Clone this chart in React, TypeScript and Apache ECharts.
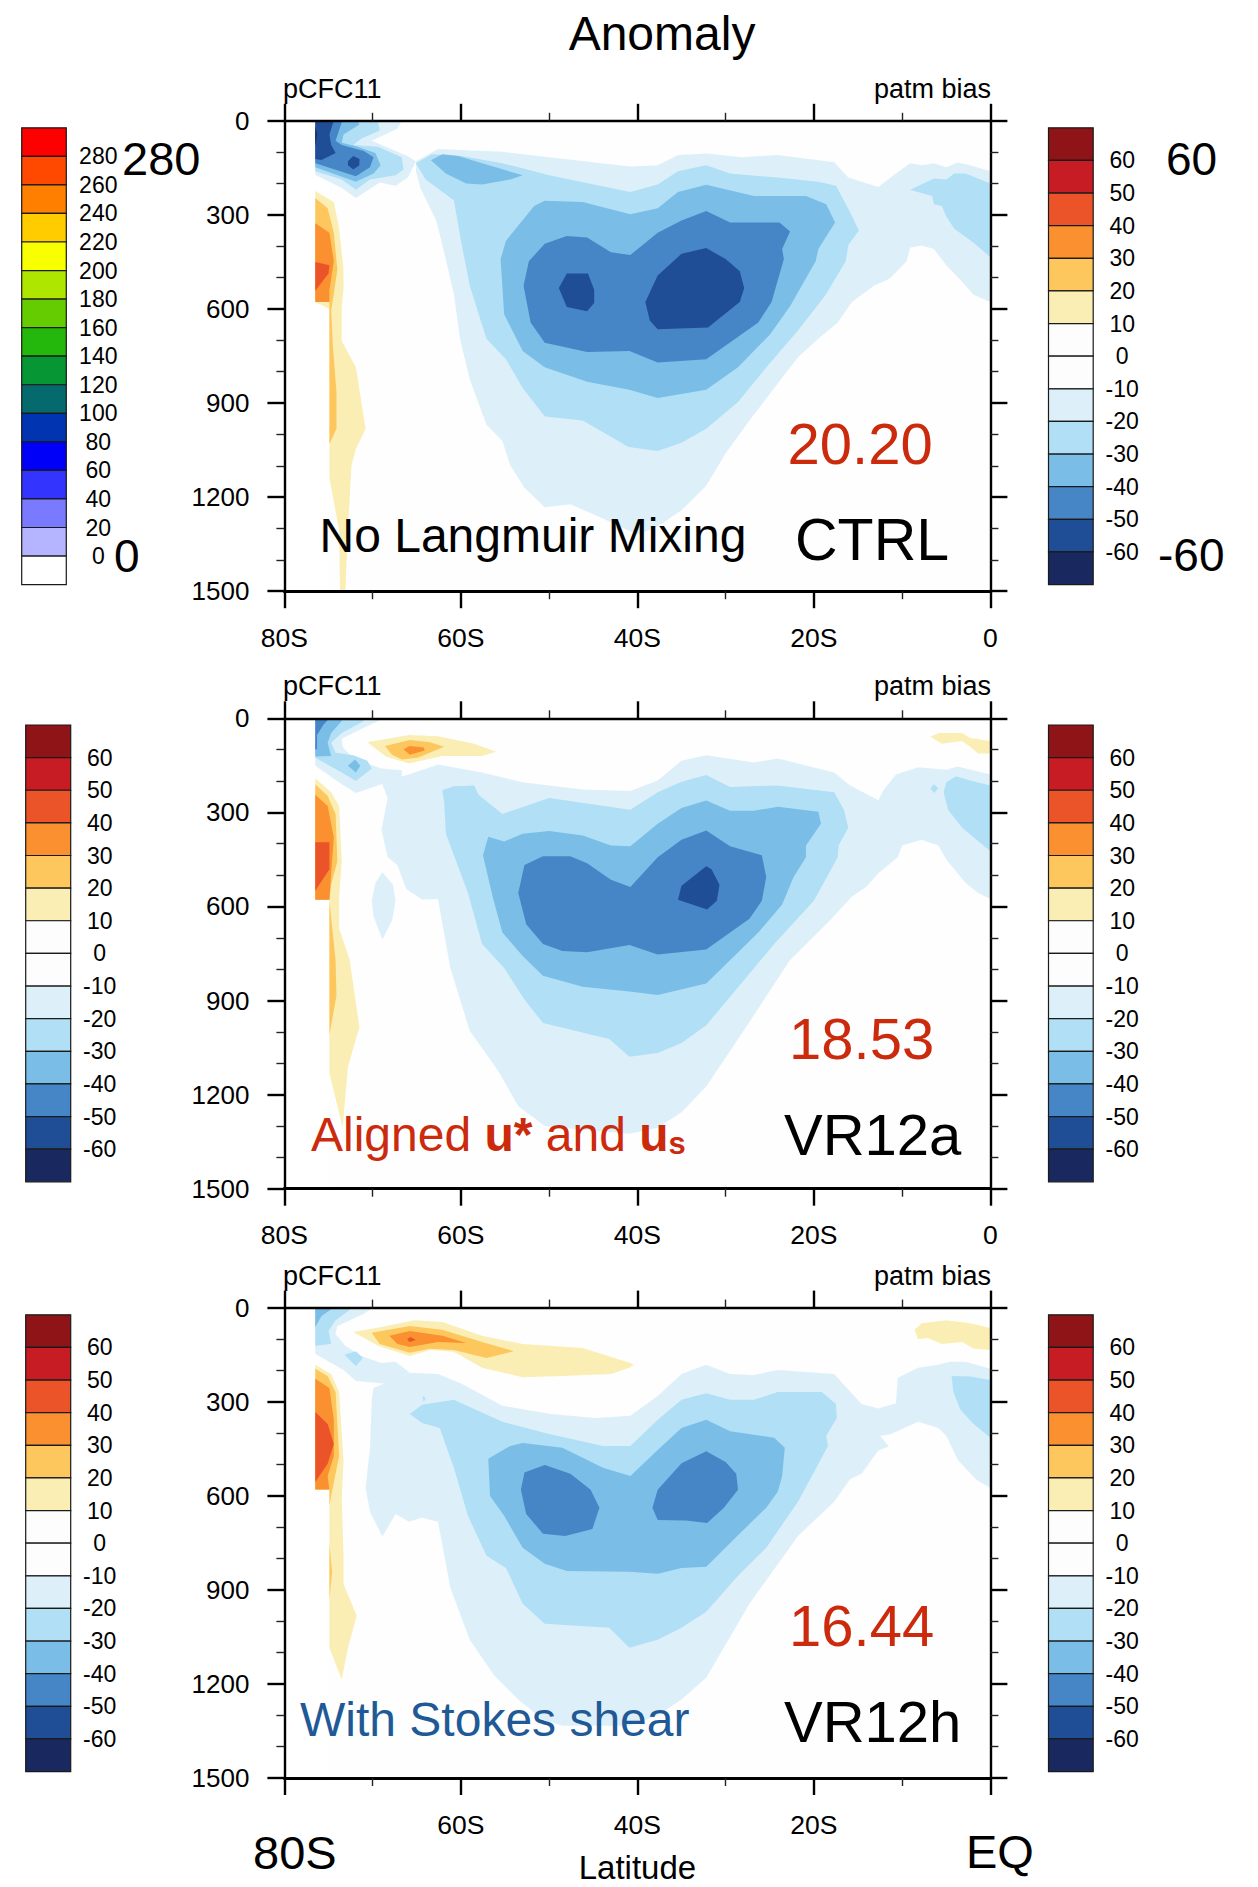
import React, { useEffect, useRef } from "react";
import * as echarts from "echarts";

type Pts = number[][];

const latTicks: Record<string, string> = { "-80": "80S", "-60": "60S", "-40": "40S", "-20": "20S", "0": "0" };
const biasColors = ["#8F1418", "#C81C24", "#EB5428", "#FA9030", "#FDC75E", "#FBEEB4", "#FDFDFD", "#FDFDFD", "#DDF0F9", "#B1DFF6", "#7ABDE6", "#4686C6", "#1F4E96", "#19295F"];
const biasLabels = ["-60", "-50", "-40", "-30", "-20", "-10", "0", "10", "20", "30", "40", "50", "60"];
const pcfcColors = ["#FF0000", "#FF4800", "#FF8000", "#FFCC00", "#F8FF00", "#AEE600", "#64CC00", "#24B80C", "#069634", "#046A6E", "#0034B0", "#0000F8", "#3434FF", "#7A7AFF", "#B4B4FF", "#FFFFFF"];
const pcfcLabels = ["0", "20", "40", "60", "80", "100", "120", "140", "160", "180", "200", "220", "240", "260", "280"];

const levelFill: Record<string, string> = {
  nearWhite: "#FEFEFE", n60: "#19295F", n50: "#1F4E96", n40: "#4686C6", n30: "#7ABDE6", n20: "#B1DFF6", n10: "#DDF0F9",
  p10: "#FBEEB4", p20: "#FDC75E", p30: "#FA9030", p40: "#EB5428",
};

const background: Pts = [[-74.9, 0], [0, 0], [0, 1500], [-74.9, 1500]];

// ---- CTRL ----
const c_n10_main: Pts = [[-65.1,129],[-62.6,90],[-55.3,99],[-50,116],[-40.8,146],[-37.7,142],[-35.4,109],[-32.2,104],[-28.2,116],[-24.1,109],[-17.7,132],[-16.1,181],[-12.7,211],[-10.9,172],[-9.1,135],[-7.8,142],[-6.4,135],[-5,148],[-3.7,133],[-2.3,142],[0,161],[0,578],[-1.9,555],[-3.2,513],[-5,461],[-6.4,409],[-7.8,398],[-9.1,405],[-9.5,448],[-11.4,503],[-13.2,526],[-15.7,578],[-17.3,643],[-19.5,695],[-21.8,754],[-24.1,838],[-27.3,956],[-30,1060],[-32.2,1164],[-35,1242],[-37.7,1294],[-40,1320],[-43.9,1268],[-47.6,1223],[-50.5,1232],[-52.8,1170],[-54.4,1099],[-55.3,1021],[-57.1,969],[-59,825],[-60.1,695],[-60.8,552],[-62.1,396],[-62.8,318],[-64.6,214],[-65.1,161]];
const c_n10_ant: Pts = [[-76.5,0],[-66.7,0],[-67.2,25],[-70.1,64],[-66,113],[-65.1,129],[-66,181],[-67.4,207],[-69.2,197],[-71.9,246],[-73.5,214],[-76.5,172]];
const c_n20_main: Pts = [[-65.1,135],[-63.3,107],[-59.9,112],[-55.3,135],[-50,174],[-40.8,227],[-37.7,203],[-35.4,161],[-32.2,142],[-29.5,168],[-24.1,181],[-19.5,194],[-17.5,207],[-15.9,292],[-14.9,350],[-16.1,396],[-16.4,448],[-18.6,552],[-21.8,669],[-25,773],[-28.6,897],[-32.2,982],[-35,1027],[-37.7,1053],[-41,1040],[-46.2,956],[-50.5,943],[-53,852],[-54.9,760],[-57.1,695],[-59,526],[-59.9,396],[-60.8,253],[-64,187]];
const c_n20_ant: Pts = [[-76.5,161],[-73.5,187],[-71.9,220],[-70.3,187],[-67.4,174],[-66.5,155],[-66.7,116],[-69.4,83],[-72.2,77],[-71.3,57],[-69.2,31],[-69.4,0],[-76.5,0]];
const c_n20_right: Pts = [[-9.1,220],[-6.4,184],[-5,187],[-4.1,168],[-2.8,168],[0,200],[0,435],[-1.9,389],[-4.1,344],[-5,305],[-5.5,272],[-6.4,266],[-6.6,240]];
const c_n30_ant: Pts = [[-76.5,148],[-71.9,194],[-69.9,168],[-69.1,142],[-69.7,103],[-71.7,83],[-73.5,70],[-73.3,44],[-71.5,12],[-71.7,0],[-76.5,0]];
const c_n30_small: Pts = [[-63.4,126],[-62.1,107],[-60.3,112],[-57.6,135],[-53,174],[-54.4,187],[-57.6,203],[-59.4,200],[-61.7,168]];
const c_n30_main: Pts = [[-55.5,441],[-54.9,383],[-51.7,272],[-50.5,255],[-46.2,259],[-40.8,298],[-37.7,279],[-35.4,227],[-32.2,204],[-26.8,240],[-20.9,240],[-18.6,266],[-17.6,324],[-19.5,409],[-19.8,448],[-22.7,591],[-25,682],[-28.6,786],[-32.2,858],[-37.7,884],[-40.9,858],[-45.7,832],[-50.5,786],[-53,734],[-55.1,617]];
const c_n40_ant: Pts = [[-76.5,135],[-71.9,177],[-70.3,148],[-69.9,116],[-71,96],[-73.5,77],[-74.2,64],[-73.5,5],[-73.5,0],[-76.5,0]];
const c_n40_main: Pts = [[-52.9,526],[-52.3,448],[-50.5,392],[-48,367],[-45.7,372],[-43,419],[-40.8,428],[-37.7,357],[-35,318],[-32.2,288],[-29.5,324],[-23.9,324],[-22.7,353],[-23.6,409],[-23.4,441],[-24.8,578],[-26.3,643],[-32.2,760],[-37.7,771],[-40.9,734],[-45.7,737],[-50.5,708],[-52.1,643]];
const c_n50_a: Pts = [[-48.9,533],[-48,487],[-45.6,487],[-44.9,539],[-44.9,581],[-45.7,607],[-48,594]];
const c_n50_b: Pts = [[-39.1,578],[-37.7,493],[-35,424],[-32.2,406],[-30,441],[-28.4,480],[-27.9,533],[-28.4,578],[-32,659],[-37.7,665],[-38.6,637]];
const c_n50_ant: Pts = [[-76.5,0],[-74.4,0],[-74.9,44],[-74.7,77],[-74.2,103],[-75.8,125],[-76.5,122]];
const c_n50_isle: Pts = [[-72.8,129],[-72.2,112],[-71.5,122],[-71.5,142],[-72.2,155],[-72.8,142]];
const c_n60_ant: Pts = [[-76.5,18],[-76.3,44],[-76.5,83]];
const c_p10: Pts = [[-76.5,224],[-74.4,259],[-73.8,344],[-73.3,474],[-73.3,539],[-73.5,591],[-73.5,702],[-71.9,786],[-70.8,982],[-71.9,1047],[-72.4,1099],[-72.7,1255],[-73.1,1500],[-73.7,1500],[-73.8,1307],[-74.9,1138],[-74.9,600],[-76.5,578]];
const c_p20: Pts = [[-76.5,246],[-75.1,279],[-74.4,357],[-74,474],[-74.4,552],[-74.7,604],[-74.5,721],[-74.1,865],[-74.1,982],[-74.9,1031],[-74.9,578],[-76.5,578]];
const c_p30: Pts = [[-76.5,327],[-74.9,357],[-74.4,448],[-74.9,539],[-74.9,578],[-76.5,578]];
const c_p40: Pts = [[-76.5,450],[-74.9,461],[-75,487],[-76.5,542]];

// ---- VR12a ----
const a_n10_main: Pts = [[-69,204],[-65.9,179],[-62.6,147],[-57.6,173],[-53,204],[-46.2,227],[-40.8,232],[-37.7,198],[-35,135],[-32.2,118],[-26.8,141],[-24.1,128],[-17.7,173],[-15.9,214],[-12.7,261],[-12.1,229],[-10.7,179],[-8.2,156],[-5,164],[-3.7,154],[0,179],[0,576],[-1.4,557],[-2.8,525],[-5,450],[-5.9,406],[-7.8,387],[-10,406],[-10.5,443],[-12.7,494],[-14.1,538],[-15.7,569],[-18.2,645],[-22.7,771],[-27.7,985],[-32.2,1174],[-35,1256],[-37.7,1306],[-40.9,1325],[-46.2,1312],[-50.5,1300],[-53.5,1237],[-55.8,1123],[-59,997],[-61.2,796],[-62.6,576],[-64.4,578],[-66.2,544],[-67.2,468],[-68.3,443],[-69,355],[-68.3,254]];
const a_n10_ant: Pts = [[-76.5,0],[-68.7,0],[-71.3,34],[-73.5,65],[-73.4,91],[-72.2,128],[-69,160],[-66.7,166],[-66.7,191],[-69,210],[-71.9,238],[-73.5,210],[-76.5,151]];
const a_n10_isle: Pts = [[-68.9,491],[-67.7,531],[-67.4,582],[-67.8,645],[-68.9,705],[-69.9,632],[-70.1,582],[-69.7,525]];
const a_n20_main: Pts = [[-62.1,229],[-60.8,217],[-58.5,214],[-58,244],[-55.3,305],[-50,254],[-40.8,292],[-37.7,236],[-35,202],[-32.2,181],[-29.5,219],[-24.1,214],[-17.7,236],[-16.6,292],[-16.1,349],[-17.2,406],[-17.3,443],[-20,582],[-24.5,720],[-32.2,979],[-35,1035],[-37.7,1067],[-40.9,1079],[-43.2,1023],[-50.7,972],[-52.8,897],[-55.1,796],[-57.6,720],[-59.2,557],[-61.7,368],[-61.9,267]];
const a_n20_ant: Pts = [[-76.5,126],[-73.5,173],[-71.9,200],[-70.1,160],[-70.6,135],[-72.2,118],[-74.2,110],[-74.7,78],[-73.5,47],[-71,9],[-71,0],[-76.5,0]];
const a_n20_right: Pts = [[0,214],[-2.3,198],[-3.9,185],[-5,204],[-5.3,236],[-4.8,292],[-3.2,349],[0,424]];
const a_n20_dot: Pts = [[-6.4,210],[-5.9,223],[-6.4,238],[-6.8,223]];
const a_n30_main: Pts = [[-57.5,437],[-56.9,378],[-55.1,393],[-53,368],[-50,359],[-46.2,374],[-43,406],[-40.8,408],[-37.7,336],[-35,286],[-32.2,262],[-29.5,295],[-26.8,295],[-24.1,282],[-19.5,298],[-19.2,336],[-20.9,406],[-20.9,443],[-22.3,506],[-23.6,594],[-26.3,683],[-32.2,846],[-37.7,882],[-40.9,871],[-46.2,856],[-50.7,821],[-53,758],[-55.3,683],[-56.4,569]];
const a_n30_ant: Pts = [[-76.5,122],[-74.7,120],[-75.1,78],[-74.7,47],[-73.5,9],[-73.5,0],[-76.5,0]];
const a_n30_isle: Pts = [[-72.8,151],[-72,131],[-71.4,151],[-71.9,173]];
const a_n40_main: Pts = [[-53.5,557],[-52.8,468],[-50.7,440],[-47.6,440],[-45.7,462],[-43,515],[-40.8,538],[-37.7,443],[-35,387],[-32.2,358],[-29.5,408],[-25.9,437],[-25.4,506],[-25.9,582],[-27.3,639],[-32.2,737],[-37.7,753],[-40.9,723],[-45.7,746],[-48.5,742],[-50.7,720],[-52.6,657]];
const a_n40_ant: Pts = [[-76.5,0],[-74.9,0],[-75.6,21],[-76.3,53],[-76.3,97],[-76.5,101]];
const a_n50: Pts = [[-35.4,579],[-35,534],[-32.2,472],[-31.6,481],[-30.7,531],[-31,582],[-32.1,610]];
const a_p10: Pts = [[-76.5,191],[-74.7,236],[-73.8,280],[-73.5,456],[-73.8,569],[-73.8,670],[-72.6,771],[-71.5,985],[-72.8,1111],[-73.4,1306],[-74.9,1130],[-74.9,579],[-76.5,579]];
const a_p20: Pts = [[-76.5,210],[-75.1,248],[-74.2,305],[-74,456],[-74.7,531],[-74.9,582],[-74.2,771],[-74.1,884],[-74.9,1010],[-74.9,579],[-76.5,579]];
const a_p30: Pts = [[-76.5,244],[-75.1,280],[-74.4,380],[-74.7,494],[-74.9,579],[-76.5,579]];
const a_p40: Pts = [[-76.5,395],[-74.9,395],[-74.9,481],[-76.5,550]];
const a_p10_blob: Pts = [[-70.6,76],[-65.9,53],[-62.6,57],[-58.5,81],[-56,107],[-57.6,120],[-62.1,120],[-65.9,144],[-68.5,122]];
const a_p20_blob: Pts = [[-68.6,88],[-65.8,69],[-63.5,76],[-61.9,91],[-64.9,126],[-66.7,131],[-67.8,116]];
const a_p30_blob: Pts = [[-66.5,99],[-65.8,88],[-64.2,93],[-64.1,103],[-65.8,116]];
const a_p10_right: Pts = [[-6.8,59],[-5.9,47],[-3.2,47],[-2.3,63],[0,72],[0,112],[-1.4,112],[-2.3,91],[-3.2,72],[-5.5,81]];

// ---- VR12h ----
const h_n10_main: Pts = [[-65.8,208],[-62.6,212],[-59.9,243],[-55.3,313],[-49.8,339],[-44.8,352],[-40.8,345],[-37.7,282],[-35,212],[-32.2,182],[-29.5,212],[-26.8,215],[-24.1,199],[-17.7,212],[-14.6,307],[-12.7,322],[-10.7,305],[-10.5,224],[-8.2,192],[-5.9,182],[-4.6,173],[-2.8,173],[0,195],[0,575],[-1.6,549],[-3.7,486],[-5,409],[-5.9,384],[-8.2,364],[-11.4,405],[-12.5,409],[-11.5,443],[-12.7,456],[-14.6,530],[-15.9,547],[-17.7,619],[-21.8,728],[-27.3,944],[-32.2,1180],[-35,1250],[-37.7,1301],[-40.9,1333],[-48.5,1333],[-50.7,1314],[-53.5,1250],[-56.2,1174],[-59,1059],[-61.2,893],[-62.6,683],[-64.4,670],[-65.9,683],[-67.4,658],[-68.9,730],[-70.3,651],[-70.8,575],[-70.3,447],[-70.1,294],[-69.9,256]];
const h_n10_ant: Pts = [[-76.5,0],[-69.9,0],[-71,20],[-74,59],[-74.2,84],[-73.1,122],[-71.3,154],[-69,177],[-67.4,173],[-65.8,208],[-68.5,243],[-71.9,234],[-73.3,199],[-76.5,148]];
const h_n20_main: Pts = [[-65.8,339],[-64.4,310],[-60.8,294],[-55.3,364],[-50,403],[-43.9,441],[-40.8,441],[-37.7,358],[-35,294],[-32.2,273],[-29.5,294],[-26.8,294],[-24.1,269],[-19.1,269],[-17.5,307],[-17.4,352],[-18.6,409],[-18.4,441],[-21.8,619],[-25.4,766],[-28.6,855],[-32.2,970],[-35,1021],[-37.7,1059],[-40.9,1085],[-43.2,1021],[-50.5,1008],[-53,944],[-54.9,830],[-57.1,791],[-59.2,664],[-60.8,511],[-62.4,384],[-64.4,368]];
const h_n20_ant: Pts = [[-76.5,122],[-74.7,116],[-75,75],[-74.2,40],[-72.6,8],[-72.6,0],[-76.5,0]];
const h_n20_isle: Pts = [[-73.2,150],[-71.9,139],[-71.1,161],[-71.9,186]];
const h_n20_dot: Pts = [[-64.4,282],[-64,288],[-64.2,301]];
const h_n20_right: Pts = [[0,231],[-2.3,220],[-4.4,218],[-4.2,269],[-3.4,326],[-1.9,371],[0,415]];
const h_n30_main: Pts = [[-56.9,482],[-54.4,441],[-53,432],[-48.5,447],[-43.9,511],[-40.8,537],[-37.7,454],[-35,384],[-32.2,358],[-29.5,394],[-24.5,415],[-23.3,447],[-23.6,537],[-24.1,587],[-25.4,638],[-28.2,715],[-32.2,826],[-35,830],[-37.7,849],[-40.9,842],[-48,840],[-50.5,817],[-53,766],[-55.1,664],[-56.7,601]];
const h_n30_ant: Pts = [[-76.5,0],[-74.4,0],[-75.8,27],[-76.5,62]];
const h_n40_a: Pts = [[-53.2,581],[-52.8,526],[-50.5,502],[-47.6,530],[-45.3,581],[-44.3,638],[-45.1,706],[-48.2,728],[-50.7,721],[-52.6,658]];
const h_n40_b: Pts = [[-38.3,638],[-37.7,581],[-35,496],[-32.2,458],[-30,492],[-28.8,530],[-28.6,581],[-30.2,638],[-32.1,687],[-34.5,679],[-37.7,677]];
const h_p10: Pts = [[-76.5,182],[-74.7,212],[-73.8,269],[-73.3,486],[-73.5,613],[-73.3,791],[-73.3,881],[-71.8,983],[-72.8,1085],[-73.5,1186],[-74.9,1085],[-74.9,580],[-76.5,580]];
const h_p20: Pts = [[-76.5,195],[-75.1,218],[-74.2,269],[-73.8,473],[-74.7,600],[-74.9,632],[-74.9,580],[-76.5,580]];
const h_p20_low: Pts = [[-74.9,753],[-74.6,842],[-74.9,932]];
const h_p30: Pts = [[-76.5,227],[-74.9,256],[-74.4,358],[-74.4,473],[-75.1,537],[-74.9,580],[-76.5,580]];
const h_p40: Pts = [[-76.5,333],[-75.1,371],[-74.4,435],[-75.1,498],[-76.5,556]];
const h_p10_blob: Pts = [[-72.2,78],[-69,62],[-65.3,40],[-62.1,46],[-57.6,90],[-53,116],[-46.2,129],[-40.8,177],[-40.4,182],[-40.9,192],[-43,212],[-48.5,218],[-53,222],[-57.6,192],[-60.8,141],[-63.5,135],[-65.8,154],[-69.4,122]];
const h_p20_blob: Pts = [[-70.1,80],[-65.8,59],[-62.1,71],[-57.6,110],[-54,139],[-57.1,161],[-60.8,135],[-63.5,131],[-65.8,144],[-69.2,116]];
const h_p30_blob: Pts = [[-68.1,90],[-65.8,75],[-62.1,90],[-59.4,113],[-62.6,110],[-65.8,126],[-67.2,116]];
const h_p40_blob: Pts = [[-66.1,101],[-65.7,94],[-65.1,103],[-65.8,110]];
const h_p10_right: Pts = [[-8.6,71],[-7.8,50],[-5,40],[-2.3,50],[0,65],[0,135],[-1.9,131],[-3.2,110],[-5.5,116],[-7.1,97],[-8.2,101]];

type Shape = [string, Pts];
const ctrlShapes: Shape[] = [["nearWhite", background], ["n10", c_n10_main], ["n10", c_n10_ant], ["n20", c_n20_main], ["n20", c_n20_ant], ["n20", c_n20_right], ["n30", c_n30_ant], ["n30", c_n30_small], ["n30", c_n30_main], ["n40", c_n40_ant], ["n40", c_n40_main], ["n50", c_n50_a], ["n50", c_n50_b], ["n50", c_n50_ant], ["n50", c_n50_isle], ["n60", c_n60_ant], ["p10", c_p10], ["p20", c_p20], ["p30", c_p30], ["p40", c_p40]];
const vr12aShapes: Shape[] = [["nearWhite", background], ["n10", a_n10_main], ["n10", a_n10_ant], ["n10", a_n10_isle], ["n20", a_n20_main], ["n20", a_n20_ant], ["n20", a_n20_right], ["n20", a_n20_dot], ["n30", a_n30_main], ["n30", a_n30_ant], ["n30", a_n30_isle], ["n40", a_n40_main], ["n40", a_n40_ant], ["n50", a_n50], ["p10", a_p10], ["p20", a_p20], ["p30", a_p30], ["p40", a_p40], ["p10", a_p10_blob], ["p20", a_p20_blob], ["p30", a_p30_blob], ["p10", a_p10_right]];
const vr12hShapes: Shape[] = [["nearWhite", background], ["n10", h_n10_main], ["n10", h_n10_ant], ["n20", h_n20_main], ["n20", h_n20_ant], ["n20", h_n20_isle], ["n20", h_n20_dot], ["n20", h_n20_right], ["n30", h_n30_main], ["n30", h_n30_ant], ["n40", h_n40_a], ["n40", h_n40_b], ["p10", h_p10], ["p20", h_p20], ["p20", h_p20_low], ["p30", h_p30], ["p40", h_p40], ["p10", h_p10_blob], ["p20", h_p20_blob], ["p30", h_p30_blob], ["p40", h_p40_blob], ["p10", h_p10_right]];

const FONT = '"Liberation Sans", Arial, sans-serif';

function buildOption() {
  const grid: any[] = [], xAxis: any[] = [], yAxis: any[] = [], series: any[] = [];
  const tickLine = (w: number) => ({ color: "#000", width: w });

  const addPlot = (top: number, shapes: Shape[], bottomLabels: boolean, axisName?: string) => {
    const g = grid.length;
    grid.push({ left: 284.4, top, width: 706, height: 470.4, outerBoundsMode: "none" });
    const xi = xAxis.length;
    const commonX = {
      gridIndex: g, type: "value", min: -80, max: 0, interval: 20, z: 10,
      axisLine: { show: true, onZero: false, lineStyle: tickLine(3) },
      axisTick: { show: true, length: 17, lineStyle: tickLine(2.4) },
      minorTick: { show: true, splitNumber: 2, length: 8, lineStyle: { color: "#222", width: 1.4 } },
      splitLine: { show: false },
    };
    xAxis.push({
      ...commonX, position: "bottom",
      axisLabel: {
        show: true, fontFamily: FONT, fontSize: 26.5, color: "#000", margin: 33, showMinLabel: true, showMaxLabel: true,
        formatter: (v: number) => (!bottomLabels && (v === -80 || v === 0) ? "" : latTicks[String(v)]),
      },
      ...(axisName ? { name: axisName, nameLocation: "middle", nameGap: 73, nameTextStyle: { fontFamily: FONT, fontSize: 33, color: "#000" } } : {}),
    });
    xAxis.push({ ...commonX, position: "top", axisLine: { show: true, onZero: false, lineStyle: tickLine(2.4) }, axisLabel: { show: false } });
    const yi = yAxis.length;
    const commonY = {
      gridIndex: g, type: "value", min: 0, max: 1500, interval: 300, inverse: true, z: 10,
      axisLine: { show: true, onZero: false, lineStyle: tickLine(2.4) },
      axisTick: { show: true, length: 17, lineStyle: tickLine(2.4) },
      minorTick: { show: true, splitNumber: 3, length: 8, lineStyle: { color: "#222", width: 1.4 } },
      splitLine: { show: false },
    };
    yAxis.push({
      ...commonY, position: "left",
      axisLabel: { show: true, fontFamily: FONT, fontSize: 26, color: "#000", margin: 35, showMinLabel: true, showMaxLabel: true, formatter: (v: number) => String(v) },
    });
    yAxis.push({ ...commonY, position: "right", axisLabel: { show: false } });
    series.push({
      type: "custom", coordinateSystem: "cartesian2d", xAxisIndex: xi, yAxisIndex: yi, silent: true, clip: true, z: 2,
      data: shapes.map((s, i) => [s[1][0][0], s[1][0][1], i]),
      encode: { x: 0, y: 1 },
      renderItem: (_p: any, api: any) => {
        const s = shapes[api.value(2)];
        return { type: "polygon", shape: { points: s[1].map((pt) => api.coord(pt)) }, style: { fill: levelFill[s[0]] } };
      },
    });
  };

  const addBar = (left: number, top: number, width: number, colors: string[], labels: string[], margin: number) => {
    const g = grid.length, n = colors.length;
    grid.push({ left, top, width, height: 456.8, outerBoundsMode: "none" });
    const xi = xAxis.length, yi = yAxis.length;
    xAxis.push({ gridIndex: g, type: "value", min: 0, max: 1, show: false });
    yAxis.push({
      gridIndex: g, type: "value", min: 0, max: n, interval: 1, position: "right",
      axisLine: { show: false }, axisTick: { show: false }, splitLine: { show: false },
      axisLabel: {
        show: true, fontFamily: FONT, fontSize: 23, color: "#000", margin, align: "center", padding: [2, 0, 0, 0],
        showMinLabel: true, showMaxLabel: true,
        formatter: (v: number) => labels[v - 1] ?? "",
      },
    });
    series.push({
      type: "custom", coordinateSystem: "cartesian2d", xAxisIndex: xi, yAxisIndex: yi, silent: true, clip: false,
      data: colors.map((_c, i) => [0, n - 1 - i, i]),
      encode: { x: 0, y: 1 },
      renderItem: (_p: any, api: any) => {
        const i = api.value(2);
        const a = api.coord([0, n - i]), b = api.coord([1, n - 1 - i]);
        return { type: "rect", shape: { x: a[0], y: a[1], width: b[0] - a[0], height: b[1] - a[1] }, style: { fill: colors[i], stroke: "#1a1a1a", lineWidth: 1.2 } };
      },
    });
  };

  addPlot(120.8, ctrlShapes, true);
  addPlot(718.3, vr12aShapes, true);
  addPlot(1307.6, vr12hShapes, false, "Latitude");
  addBar(21.7, 127.8, 44.6, pcfcColors, pcfcLabels, 32);
  addBar(1048.5, 127.8, 44.7, biasColors, biasLabels, 29);
  addBar(25.7, 725, 45, biasColors, biasLabels, 29);
  addBar(1048.5, 725, 44.7, biasColors, biasLabels, 29);
  addBar(25.7, 1314.8, 45, biasColors, biasLabels, 29);
  addBar(1048.5, 1314.8, 44.7, biasColors, biasLabels, 29);

  const txt = (text: string, x: number, y: number, fontSize: number, fill = "#000", align = "left") => ({
    type: "text", x, y, z: 100, silent: true,
    style: { text, fontFamily: FONT, fontSize, fill, align, verticalAlign: "middle" },
  });
  const RED = "#CC2A0C", BLUE = "#1F5A96";
  const graphic: any[] = [
    txt("Anomaly", 662, 33, 48, "#000", "center"),
    txt("pCFC11", 283, 88.6, 27), txt("patm bias", 991, 88.6, 27, "#000", "right"),
    txt("pCFC11", 283, 686, 27), txt("patm bias", 991, 686, 27, "#000", "right"),
    txt("pCFC11", 283, 1276, 27), txt("patm bias", 991, 1276, 27, "#000", "right"),
    txt("280", 122, 158, 47), txt("0", 114, 556, 46),
    txt("60", 1166, 159, 46), txt("-60", 1158, 555, 46),
    txt("20.20", 787.5, 443, 58, RED), txt("CTRL", 795, 540, 59),
    txt("No Langmuir Mixing", 319.5, 535, 48),
    txt("18.53", 789, 1038, 58, RED), txt("VR12a", 784, 1134, 58),
    {
      type: "text", x: 311, y: 1134, z: 100, silent: true,
      style: {
        text: "{a|Aligned }{b|u*}{a| and }{b|u}{s|s}", verticalAlign: "middle", fill: RED, fontFamily: FONT, fontSize: 48,
        rich: {
          a: { fontFamily: FONT, fontSize: 48, fill: RED, lineHeight: 50 },
          b: { fontFamily: FONT, fontSize: 48, fontWeight: "bold", fill: RED, lineHeight: 50 },
          s: { fontFamily: FONT, fontSize: 31, fontWeight: "bold", fill: RED, verticalAlign: "bottom", lineHeight: 50 },
        },
      },
    },
    txt("16.44", 789, 1625, 58, RED), txt("VR12h", 784, 1721, 58),
    txt("With Stokes shear", 300, 1719, 48, BLUE),
    txt("80S", 253, 1852, 47), txt("EQ", 966, 1851, 47),
  ];

  return { animation: false, backgroundColor: "#fff", textStyle: { fontFamily: FONT }, grid, xAxis, yAxis, series, graphic };
}

export default function App() {
  const ref = useRef<HTMLDivElement>(null);
  useEffect(() => {
    const chart = echarts.init(ref.current!, undefined, { renderer: "svg" });
    chart.setOption(buildOption());
    return () => chart.dispose();
  }, []);
  return <div ref={ref} style={{ position: "absolute", left: 0, top: 0, width: 1258, height: 1887 }} />;
}
